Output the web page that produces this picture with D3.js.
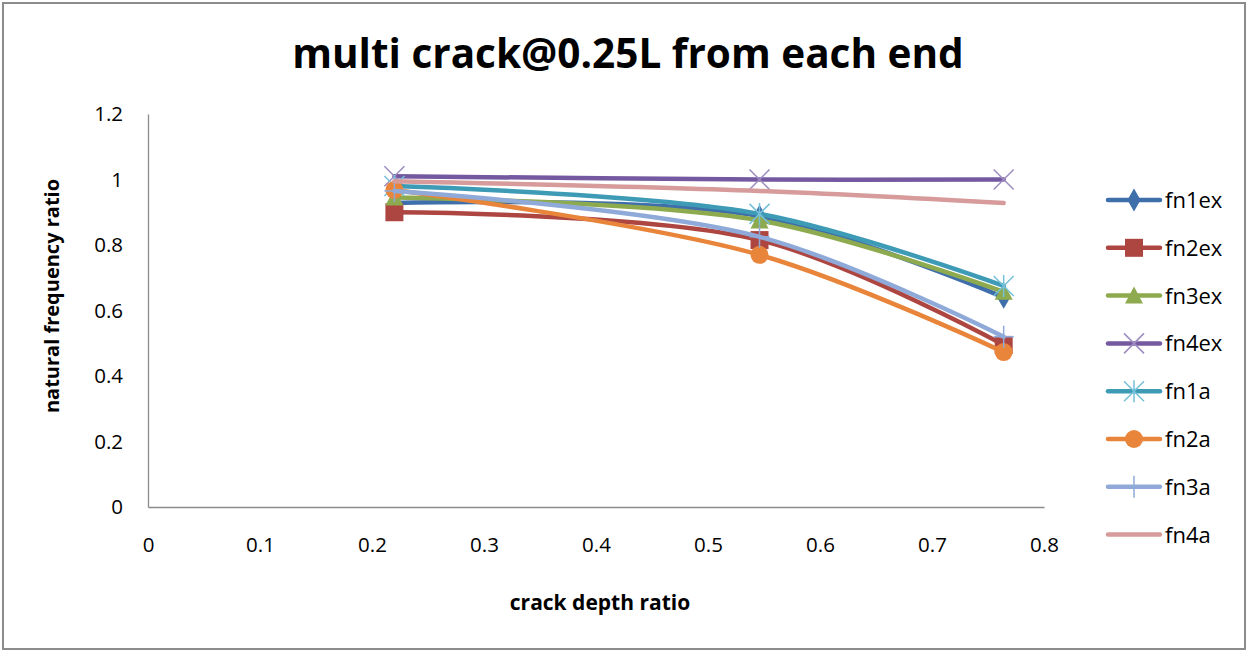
<!DOCTYPE html>
<html>
<head>
<meta charset="utf-8">
<script src="https://cdn.jsdelivr.net/npm/d3@7"></script>
<style>
  body { margin: 0; background: #fff; }
  svg text { font-family: "Open Sans", "Liberation Sans", sans-serif; fill: #000; }
</style>
</head>
<body>
<svg id="chart" width="1249" height="652"></svg>
<script>
// data
const crackDepth = [0.22, 0.546, 0.764]
const seriesNames = ['fn1ex', 'fn2ex', 'fn3ex', 'fn4ex', 'fn1a', 'fn2a', 'fn3a', 'fn4a']
const fn1ex = [0.928, 0.888, 0.64]
const fn2ex = [0.90, 0.815, 0.495]
const fn3ex = [0.945, 0.875, 0.657]
const fn4ex = [1.01, 1.0, 1.0]
const fn1a = [0.98, 0.895, 0.675]
const fn2a = [0.968, 0.77, 0.473]
const fn3a = [0.965, 0.825, 0.52]
const fn4a = [0.995, 0.965, 0.928]
const xTicks = [0, 0.1, 0.2, 0.3, 0.4, 0.5, 0.6, 0.7, 0.8]
const yTicks = [0, 0.2, 0.4, 0.6, 0.8, 1, 1.2]

const seriesValues = [fn1ex, fn2ex, fn3ex, fn4ex, fn1a, fn2a, fn3a, fn4a]
const colors = ['#3F6FAB', '#AD4541', '#8DAA4F', '#7559A0', '#3E9BB6', '#E8853B', '#8FAAD8', '#D69B9A']
const markers = ['diamond', 'square', 'triangle', 'x', 'star', 'circle', 'plus', 'none']

var svg = d3.select('#chart')

// outer frame
svg.append('rect')
  .attr('x', 3).attr('y', 3)
  .attr('width', 1242).attr('height', 646)
  .attr('fill', 'white')
  .attr('stroke', '#8c8c8c')
  .attr('stroke-width', 2)

var x = d3.scaleLinear().domain([0, 0.8]).range([148, 1044])
var y = d3.scaleLinear().domain([0, 1.2]).range([507, 114])

// title
svg.append('text')
  .attr('x', 628).attr('y', 68)
  .attr('text-anchor', 'middle')
  .attr('font-size', 40.5)
  .attr('font-weight', 'bold')
  .text('multi crack@0.25L from each end')

// axes, no tick marks
var xAxis = svg.append('g')
  .attr('transform', 'translate(0,507)')
  .call(d3.axisBottom(x).tickValues(xTicks).tickSize(0).tickPadding(30)
    .tickFormat(d => d3.format('')(+d.toFixed(1))))
var yAxis = svg.append('g')
  .attr('transform', 'translate(148,0)')
  .call(d3.axisLeft(y).tickValues(yTicks).tickSize(0).tickPadding(25)
    .tickFormat(d => d3.format('')(+d.toFixed(1))))

;[xAxis, yAxis].forEach(function (ax) {
  ax.select('.domain').attr('stroke', '#8c8c8c').attr('stroke-width', 1.3)
  ax.selectAll('text').attr('font-size', 20.5).attr('fill', '#000')
  ax.attr('font-family', null)
})

// axis titles
svg.append('text')
  .attr('x', 600).attr('y', 610)
  .attr('text-anchor', 'middle')
  .attr('font-size', 21)
  .attr('font-weight', 'bold')
  .text('crack depth ratio')
svg.append('text')
  .attr('transform', 'translate(59,296) rotate(-90)')
  .attr('text-anchor', 'middle')
  .attr('font-size', 20)
  .attr('font-weight', 'bold')
  .text('natural frequency ratio')

var line = d3.line()
  .x(d => x(d[0]))
  .y(d => y(d[1]))
  .curve(d3.curveCatmullRom.alpha(0.5))

function drawMarker(g, kind, cx, cy, color) {
  if (kind === 'diamond') {
    g.append('path').attr('d', d3.symbol(d3.symbolDiamond, 150)())
      .attr('transform', `translate(${cx},${cy})`).attr('fill', color)
  } else if (kind === 'square') {
    g.append('rect').attr('x', cx - 9).attr('y', cy - 9).attr('width', 18).attr('height', 18).attr('fill', color)
  } else if (kind === 'triangle') {
    g.append('path').attr('d', `M${cx},${cy - 9}L${cx + 9},${cy + 8}L${cx - 9},${cy + 8}Z`).attr('fill', color)
  } else if (kind === 'circle') {
    g.append('circle').attr('cx', cx).attr('cy', cy).attr('r', 9).attr('fill', color)
  } else if (kind === 'x') {
    g.append('path').attr('d', `M${cx - 10},${cy - 10}L${cx + 10},${cy + 10}M${cx - 10},${cy + 10}L${cx + 10},${cy - 10}`)
      .attr('stroke', '#9d8cc0').attr('stroke-width', 1.5)
  } else if (kind === 'star') {
    g.append('path').attr('d', `M${cx - 10},${cy - 10}L${cx + 10},${cy + 10}M${cx - 10},${cy + 10}L${cx + 10},${cy - 10}M${cx},${cy - 11}L${cx},${cy + 11}`)
      .attr('stroke', '#74c0d8').attr('stroke-width', 1.5)
  } else if (kind === 'plus') {
    g.append('path').attr('d', `M${cx - 10},${cy}L${cx + 10},${cy}M${cx},${cy - 11}L${cx},${cy + 11}`)
      .attr('stroke', '#8FAAD8').attr('stroke-width', 1.5)
  }
}

// series lines and markers
seriesValues.forEach(function (vals, i) {
  var pts = crackDepth.map((c, j) => [c, vals[j]])
  var g = svg.append('g')
  g.append('path')
    .attr('d', line(pts))
    .attr('fill', 'none')
    .attr('stroke', colors[i])
    .attr('stroke-width', 4.5)
    .attr('stroke-linecap', 'round')
  pts.forEach(function (p) {
    drawMarker(g, markers[i], x(p[0]), y(p[1]), colors[i])
  })
})

// legend
var legend = svg.append('g')
seriesNames.forEach(function (name, i) {
  var ly = 200 + i * 47.8
  legend.append('line')
    .attr('x1', 1108).attr('x2', 1160)
    .attr('y1', ly).attr('y2', ly)
    .attr('stroke', colors[i])
    .attr('stroke-width', 4.5)
    .attr('stroke-linecap', 'round')
  drawMarker(legend, markers[i], 1134, ly, colors[i])
  legend.append('text')
    .attr('x', 1165).attr('y', ly + 8)
    .attr('font-size', 22)
    .text(name)
})
</script>
</body>
</html>
